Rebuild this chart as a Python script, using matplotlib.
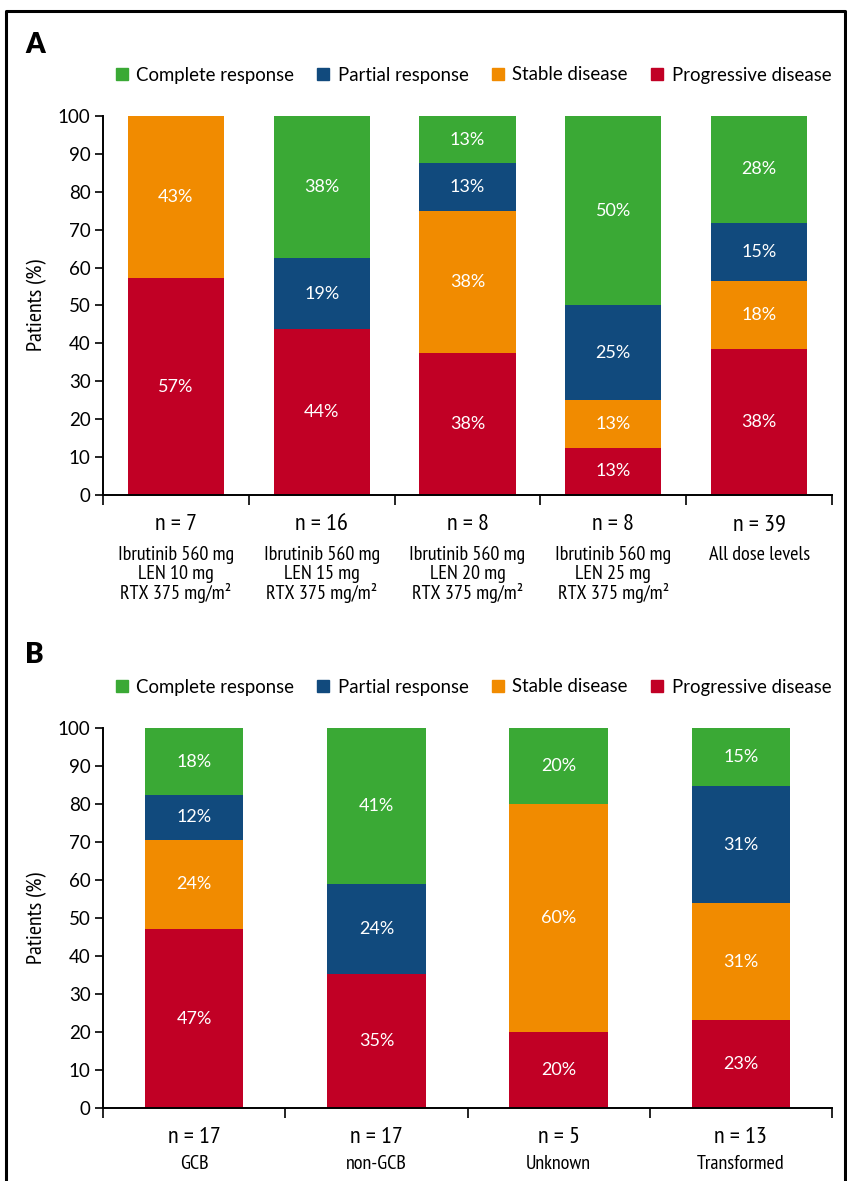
import matplotlib
matplotlib.use("Agg")
import matplotlib.pyplot as plt
from matplotlib.lines import Line2D
from matplotlib.patches import Patch

plt.rcParams['font.family'] = ['Lato', 'DejaVu Sans']

# Response categories, stacked bottom to top
responses = ['Progressive disease', 'Stable disease', 'Partial response', 'Complete response']
colors = {
    'Complete response': '#3aa935',
    'Partial response': '#114a7d',
    'Stable disease': '#f18b00',
    'Progressive disease': '#c10025',
}

# Panel A: by dose level (% of patients)
dose_n = [7, 16, 8, 8, 39]
dose_labels = [
    'Ibrutinib 560 mg\nLEN 10 mg\nRTX 375 mg/m²',
    'Ibrutinib 560 mg\nLEN 15 mg\nRTX 375 mg/m²',
    'Ibrutinib 560 mg\nLEN 20 mg\nRTX 375 mg/m²',
    'Ibrutinib 560 mg\nLEN 25 mg\nRTX 375 mg/m²',
    'All dose levels',
]
dose_pd = [57.14, 43.75, 37.5, 12.5, 38.46]
dose_sd = [42.86, 0.0, 37.5, 12.5, 17.95]
dose_pr = [0.0, 18.75, 12.5, 25.0, 15.38]
dose_cr = [0.0, 37.5, 12.5, 50.0, 28.21]

# Panel B: by cell of origin (% of patients)
coo_n = [17, 17, 5, 13]
coo_labels = ['GCB', 'non-GCB', 'Unknown', 'Transformed']
coo_pd = [47.06, 35.29, 20.0, 23.08]
coo_sd = [23.53, 0.0, 60.0, 30.77]
coo_pr = [11.76, 23.53, 0.0, 30.77]
coo_cr = [17.65, 41.18, 20.0, 15.38]

narrow = ['PT Sans Narrow', 'Roboto Condensed', 'DejaVu Sans']


def pct(v):
    return f'{int(v + 0.5)}%'


def draw_panel(ax, series, n_vals, cat_labels, width, sub_offset):
    cats = list(range(len(n_vals)))
    bottom = [0.0] * len(cats)
    for name, vals in zip(responses, series):
        ax.bar(cats, vals, width, bottom=bottom, color=colors[name], linewidth=0)
        for i, v in enumerate(vals):
            if v > 0:
                ax.text(i, bottom[i] + v / 2, pct(v), ha='center', va='center',
                        color='white', fontsize=13)
        bottom = [b + v for b, v in zip(bottom, vals)]

    ax.set_xlim(-0.5, len(cats) - 0.5)
    ax.set_ylim(0, 100)
    ax.set_yticks(range(0, 101, 10))
    ax.tick_params(axis='y', direction='out', length=6, width=1.2, labelsize=13.5, pad=3)
    ax.set_xticks([c - 0.5 for c in cats] + [len(cats) - 0.5])
    ax.set_xticklabels([])
    ax.tick_params(axis='x', direction='out', length=7, width=1.2)
    for s in ['top', 'right']:
        ax.spines[s].set_visible(False)
    for s in ['left', 'bottom']:
        ax.spines[s].set_linewidth(1.4)
    ax.set_ylabel('Patients (%)', fontsize=16, family=narrow, labelpad=8)

    for i, (n, lab) in enumerate(zip(n_vals, cat_labels)):
        ax.annotate(f'n = {n}', xy=(i, 0), xycoords=('data', 'axes fraction'),
                    xytext=(0, -14), textcoords='offset points',
                    ha='center', va='top', fontsize=17.5, family=narrow)
        ax.annotate(lab, xy=(i, 0), xycoords=('data', 'axes fraction'),
                    xytext=(0, sub_offset), textcoords='offset points',
                    ha='center', va='top', fontsize=14.5, family=narrow,
                    linespacing=1.03)


def draw_legend(fig, y):
    handles = [Patch(color=colors[r], label=r) for r in reversed(responses)]
    fig.legend(handles=handles, loc='center', bbox_to_anchor=(0.559, y), ncol=4,
               frameon=False, fontsize=13.4, handlelength=0.65, handleheight=0.65,
               handletextpad=0.45, columnspacing=1.25, borderaxespad=0)


fig = plt.figure(figsize=(8.47, 11.81), dpi=100)

ax_a = fig.add_axes([0.1216, 0.5809, 0.8607, 0.3209])
draw_panel(ax_a, [dose_pd, dose_sd, dose_pr, dose_cr], dose_n, dose_labels, 0.66, -37)
ax_b = fig.add_axes([0.1216, 0.0618, 0.8607, 0.3218])
draw_panel(ax_b, [coo_pd, coo_sd, coo_pr, coo_cr], coo_n, coo_labels, 0.54, -34)

draw_legend(fig, 1 - 75 / 1181)
draw_legend(fig, 1 - 687 / 1181)

fig.text(25 / 847, 1 - 45 / 1181, 'A', fontsize=20, fontweight='heavy', va='center', ha='left')
fig.text(25 / 847, 1 - 655 / 1181, 'B', fontsize=20, fontweight='heavy', va='center', ha='left')

# outer frame (left, top, right edges)
fx0, fx1, fy = 6 / 847, 845 / 847, 1 - 11 / 1181
fig.add_artist(Line2D([fx0, fx0, fx1, fx1], [0, fy, fy, 0], transform=fig.transFigure,
                      color='black', linewidth=2.2))

fig.savefig('out.png', dpi=100)
